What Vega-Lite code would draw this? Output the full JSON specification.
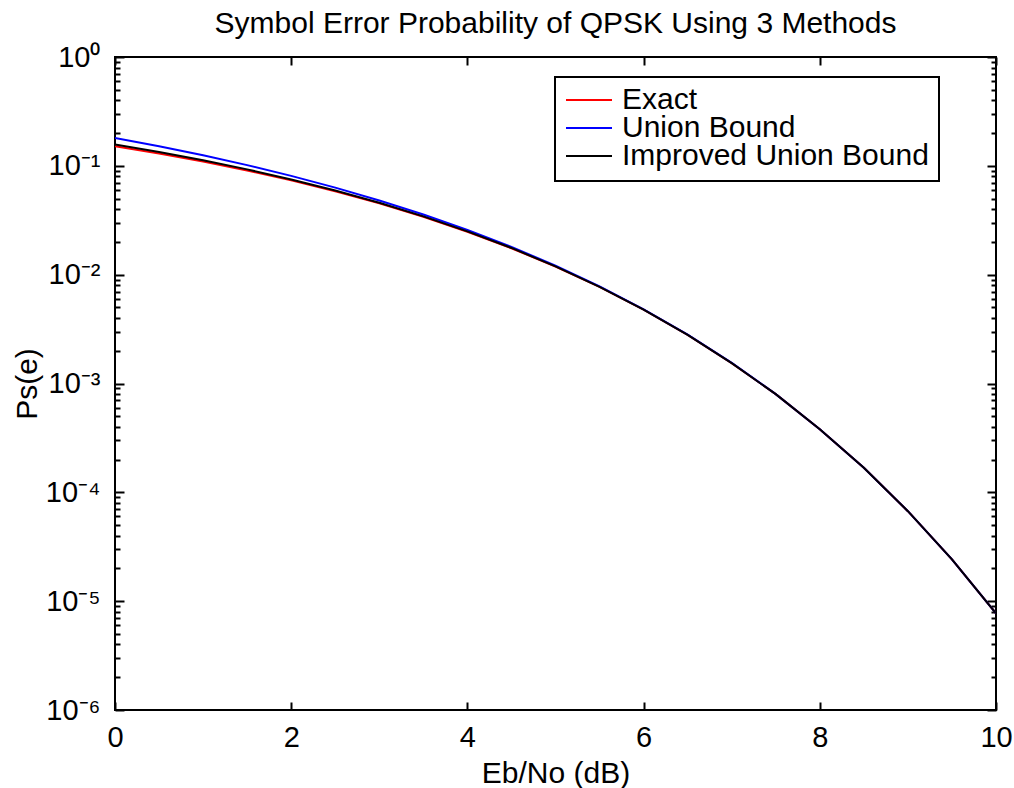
{
  "$schema": "https://vega.github.io/schema/vega-lite/v6.json",
  "width": 881,
  "height": 653,
  "autosize": {"type": "none"},
  "padding": {"left": 115, "top": 57, "right": 18, "bottom": 78},
  "background": "white",
  "title": {
    "text": "Symbol Error Probability of QPSK Using 3 Methods",
    "anchor": "middle",
    "offset": 4,
    "font": "Liberation Sans",
    "fontSize": 30,
    "fontWeight": "normal",
    "color": "black"
  },
  "data": {
    "values": [
      {"ebno": 0, "series": "Exact", "ps": 0.1511},
      {"ebno": 0.5, "series": "Exact", "ps": 0.1296},
      {"ebno": 1, "series": "Exact", "ps": 0.1094},
      {"ebno": 1.5, "series": "Exact", "ps": 0.0906},
      {"ebno": 2, "series": "Exact", "ps": 0.0736},
      {"ebno": 2.5, "series": "Exact", "ps": 0.0584},
      {"ebno": 3, "series": "Exact", "ps": 0.0452},
      {"ebno": 3.5, "series": "Exact", "ps": 0.0340},
      {"ebno": 4, "series": "Exact", "ps": 0.0248},
      {"ebno": 4.5, "series": "Exact", "ps": 0.0175},
      {"ebno": 5, "series": "Exact", "ps": 0.01187},
      {"ebno": 5.5, "series": "Exact", "ps": 0.00771},
      {"ebno": 6, "series": "Exact", "ps": 0.00477},
      {"ebno": 6.5, "series": "Exact", "ps": 0.00280},
      {"ebno": 7, "series": "Exact", "ps": 0.00154},
      {"ebno": 7.5, "series": "Exact", "ps": 0.000798},
      {"ebno": 8, "series": "Exact", "ps": 0.000380},
      {"ebno": 8.5, "series": "Exact", "ps": 0.000168},
      {"ebno": 9, "series": "Exact", "ps": 0.0000671},
      {"ebno": 9.5, "series": "Exact", "ps": 0.0000242},
      {"ebno": 10, "series": "Exact", "ps": 0.00000774},
      {"ebno": 0, "series": "Union Bound", "ps": 0.1800},
      {"ebno": 0.5, "series": "Union Bound", "ps": 0.1512},
      {"ebno": 1, "series": "Union Bound", "ps": 0.1250},
      {"ebno": 1.5, "series": "Union Bound", "ps": 0.1015},
      {"ebno": 2, "series": "Union Bound", "ps": 0.0809},
      {"ebno": 2.5, "series": "Union Bound", "ps": 0.0631},
      {"ebno": 3, "series": "Union Bound", "ps": 0.0481},
      {"ebno": 3.5, "series": "Union Bound", "ps": 0.0357},
      {"ebno": 4, "series": "Union Bound", "ps": 0.0258},
      {"ebno": 4.5, "series": "Union Bound", "ps": 0.0180},
      {"ebno": 5, "series": "Union Bound", "ps": 0.01209},
      {"ebno": 5.5, "series": "Union Bound", "ps": 0.00781},
      {"ebno": 6, "series": "Union Bound", "ps": 0.00481},
      {"ebno": 6.5, "series": "Union Bound", "ps": 0.00281},
      {"ebno": 7, "series": "Union Bound", "ps": 0.00155},
      {"ebno": 7.5, "series": "Union Bound", "ps": 0.000799},
      {"ebno": 8, "series": "Union Bound", "ps": 0.000380},
      {"ebno": 8.5, "series": "Union Bound", "ps": 0.000168},
      {"ebno": 9, "series": "Union Bound", "ps": 0.0000671},
      {"ebno": 9.5, "series": "Union Bound", "ps": 0.0000242},
      {"ebno": 10, "series": "Union Bound", "ps": 0.00000774},
      {"ebno": 0, "series": "Improved Union Bound", "ps": 0.1573},
      {"ebno": 0.5, "series": "Improved Union Bound", "ps": 0.1341},
      {"ebno": 1, "series": "Improved Union Bound", "ps": 0.1125},
      {"ebno": 1.5, "series": "Improved Union Bound", "ps": 0.0928},
      {"ebno": 2, "series": "Improved Union Bound", "ps": 0.0750},
      {"ebno": 2.5, "series": "Improved Union Bound", "ps": 0.0593},
      {"ebno": 3, "series": "Improved Union Bound", "ps": 0.0458},
      {"ebno": 3.5, "series": "Improved Union Bound", "ps": 0.0343},
      {"ebno": 4, "series": "Improved Union Bound", "ps": 0.0250},
      {"ebno": 4.5, "series": "Improved Union Bound", "ps": 0.0176},
      {"ebno": 5, "series": "Improved Union Bound", "ps": 0.01191},
      {"ebno": 5.5, "series": "Improved Union Bound", "ps": 0.00772},
      {"ebno": 6, "series": "Improved Union Bound", "ps": 0.00478},
      {"ebno": 6.5, "series": "Improved Union Bound", "ps": 0.00280},
      {"ebno": 7, "series": "Improved Union Bound", "ps": 0.00154},
      {"ebno": 7.5, "series": "Improved Union Bound", "ps": 0.000798},
      {"ebno": 8, "series": "Improved Union Bound", "ps": 0.000380},
      {"ebno": 8.5, "series": "Improved Union Bound", "ps": 0.000168},
      {"ebno": 9, "series": "Improved Union Bound", "ps": 0.0000671},
      {"ebno": 9.5, "series": "Improved Union Bound", "ps": 0.0000242},
      {"ebno": 10, "series": "Improved Union Bound", "ps": 0.00000774}
    ]
  },
  "layer": [
    {
      "mark": {"type": "line", "strokeWidth": 2, "clip": true},
      "encoding": {
        "x": {
          "field": "ebno",
          "type": "quantitative",
          "scale": {"domain": [0, 10], "nice": false, "zero": false},
          "axis": {
            "orient": "bottom",
            "title": "Eb/No (dB)",
            "values": [0, 2, 4, 6, 8, 10],
            "format": "d",
            "tickSize": -8,
            "labelPadding": 21,
            "titlePadding": 6,
            "labelFlush": false
          }
        },
        "y": {
          "field": "ps",
          "type": "quantitative",
          "scale": {"type": "log", "domain": [0.000001, 1], "nice": false},
          "axis": {
            "orient": "left",
            "title": "Ps(e)",
            "values": [0.000001, 0.000002, 0.000003, 0.000004, 0.000005, 0.000006, 0.000007, 0.000008, 0.000009,
                       0.00001, 0.00002, 0.00003, 0.00004, 0.00005, 0.00006, 0.00007, 0.00008, 0.00009,
                       0.0001, 0.0002, 0.0003, 0.0004, 0.0005, 0.0006, 0.0007, 0.0008, 0.0009,
                       0.001, 0.002, 0.003, 0.004, 0.005, 0.006, 0.007, 0.008, 0.009,
                       0.01, 0.02, 0.03, 0.04, 0.05, 0.06, 0.07, 0.08, 0.09,
                       0.1, 0.2, 0.3, 0.4, 0.5, 0.6, 0.7, 0.8, 0.9, 1],
            "labelExpr": "abs(log(datum.value)/LN10 - round(log(datum.value)/LN10)) < 0.01 ? '10' + ['⁰','⁻¹','⁻²','⁻³','⁻⁴','⁻⁵','⁻⁶'][abs(round(log(datum.value)/LN10))] : ''",
            "tickSize": {"condition": {"test": "abs(log(datum.value)/LN10 - round(log(datum.value)/LN10)) < 0.01", "value": -9}, "value": -5},
            "labelPadding": 24,
            "labelOverlap": false,
            "labelFlush": false,
            "titlePadding": 3
          }
        },
        "color": {
          "field": "series",
          "type": "nominal",
          "sort": ["Exact", "Union Bound", "Improved Union Bound"],
          "scale": {"domain": ["Exact", "Union Bound", "Improved Union Bound"], "range": ["#ff0000", "#0000ff", "#000000"]},
          "legend": {
            "title": null,
            "orient": "none",
            "legendX": 440,
            "legendY": 20,
            "direction": "vertical",
            "symbolType": "stroke",
            "symbolSize": 2116,
            "symbolStrokeWidth": 2,
            "clipHeight": 26,
            "labelFont": "Liberation Sans",
            "labelFontSize": 30,
            "labelColor": "black",
            "labelOffset": 9,
            "labelLimit": 0,
            "rowPadding": -4,
            "padding": 10,
            "fillColor": "white",
            "strokeColor": "black",
            "encode": {"legend": {"update": {"strokeWidth": {"value": 2}}}}
          }
        }
      }
    },
    {
      "mark": {"type": "line", "strokeOpacity": 0},
      "encoding": {
        "x": {
          "field": "ebno",
          "type": "quantitative",
          "axis": {
            "orient": "top",
            "title": null,
            "labels": false,
            "values": [0, 2, 4, 6, 8, 10],
            "tickSize": -8
          }
        },
        "y": {
          "field": "ps",
          "type": "quantitative",
          "axis": {
            "orient": "right",
            "title": null,
            "labels": false,
            "values": [0.000001, 0.000002, 0.000003, 0.000004, 0.000005, 0.000006, 0.000007, 0.000008, 0.000009,
                       0.00001, 0.00002, 0.00003, 0.00004, 0.00005, 0.00006, 0.00007, 0.00008, 0.00009,
                       0.0001, 0.0002, 0.0003, 0.0004, 0.0005, 0.0006, 0.0007, 0.0008, 0.0009,
                       0.001, 0.002, 0.003, 0.004, 0.005, 0.006, 0.007, 0.008, 0.009,
                       0.01, 0.02, 0.03, 0.04, 0.05, 0.06, 0.07, 0.08, 0.09,
                       0.1, 0.2, 0.3, 0.4, 0.5, 0.6, 0.7, 0.8, 0.9, 1],
            "tickSize": {"condition": {"test": "abs(log(datum.value)/LN10 - round(log(datum.value)/LN10)) < 0.01", "value": -9}, "value": -5}
          }
        },
        "detail": {"field": "series", "type": "nominal"}
      }
    }
  ],
  "resolve": {"axis": {"x": "independent", "y": "independent"}},
  "config": {
    "view": {"stroke": "black", "strokeWidth": 2},
    "axis": {
      "grid": false,
      "domain": false,
      "tickColor": "black",
      "tickWidth": 2,
      "labelColor": "black",
      "labelFont": "Liberation Sans",
      "labelFontSize": 29,
      "titleColor": "black",
      "titleFont": "Liberation Sans",
      "titleFontSize": 30,
      "titleFontWeight": "normal"
    }
  }
}
